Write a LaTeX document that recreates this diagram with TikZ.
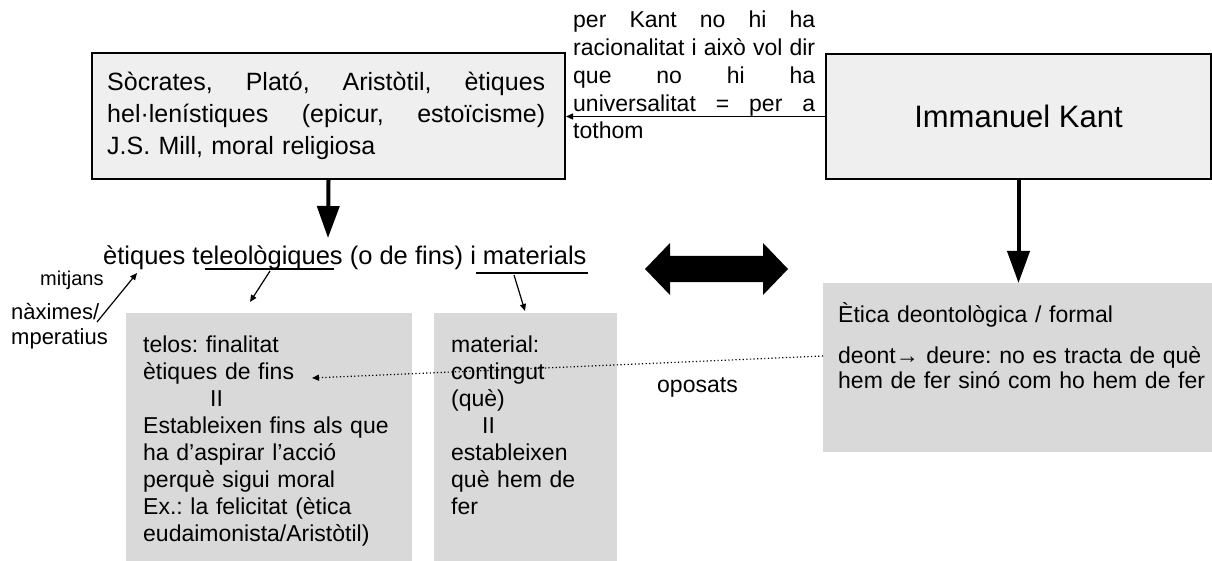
\documentclass[tikz,border=0pt]{standalone}
\usepackage{fontspec}
\setmainfont{Liberation Sans}
\usetikzlibrary{arrows.meta}
\definecolor{boxlight}{HTML}{EFEFEF}
\definecolor{boxgray}{HTML}{D9D9D9}
\setlength\parindent{0pt}
\frenchspacing
\begin{document}
\begin{tikzpicture}[x=1pt,y=-1pt,
  darkbox/.style={draw=black, line width=2pt, fill=boxlight, inner sep=0pt},
  graybox/.style={fill=boxgray, inner sep=0pt},
  txt/.style={inner sep=0pt, anchor=base west},
  thinarrow/.style={line width=1.2pt, -{Triangle[length=7pt,width=6pt]}},
  thickarrow/.style={line width=4pt, -{Triangle[length=32pt,width=22pt]}},
  dotarrow/.style={line width=1.2pt, dash pattern=on 1.2pt off 2.4pt, -{Triangle[length=7pt,width=6pt]}},
  plainline/.style={line width=1.2pt},
]
\useasboundingbox (0,0) rectangle (1212,561);

% top boxes
\node[darkbox, minimum width=473pt, minimum height=126pt, anchor=north west] (soc) at (91,52) {};
\node[txt, text width=438pt, font=\fontsize{25}{32}\selectfont\frenchspacing] (soctxt) at (107,91)
  {Sòcrates,\hfill Plató,\hfill Aristòtil,\hfill ètiques\\
   hel·lenístiques\hfill (epicur,\hfill estoïcisme)\\
   J.S. Mill, moral religiosa};

\node[darkbox, minimum width=385pt, minimum height=125pt, anchor=north west,
      font=\fontsize{31}{37}\selectfont] (kant) at (825,53) {Immanuel Kant};

\node[txt, text width=242pt, font=\fontsize{23}{27.75}\selectfont\frenchspacing] (note) at (573,28)
  {per\hfill Kant\hfill no\hfill hi\hfill ha\\
   racionalitat\hfill i\hfill això\hfill vol\hfill dir\\
   que\hfill no\hfill hi\hfill ha\\
   universalitat\hfill =\hfill per\hfill a\\
   tothom};

\draw[thinarrow] (kant.west) -- (soc.east |- kant.west);

% middle title
\node[txt, font=\fontsize{25.5}{30}\selectfont] (teleo) at (103,265)
  {ètiques teleològiques (o de fins) i materials};
\coordinate (teleotop) at (328,238);
\draw[thickarrow] (soc.south) -- (teleotop);

\coordinate (ulA1) at (205,269);
\coordinate (ulA2) at (334,269);
\coordinate (ulB1) at (476,273);
\coordinate (ulB2) at (588,273);
\draw[plainline] (ulA1) -- (ulA2);
\draw[plainline] (ulB1) -- (ulB2);

% double arrow
\fill[black] (645,269) -- (670,243) -- (670,256) -- (763,256) -- (763,243) -- (788,269)
  -- (763,295) -- (763,282) -- (670,282) -- (670,295) -- cycle;

% gray boxes
\node[graybox, minimum width=286pt, minimum height=250pt, anchor=north west] (telos) at (126,313) {};
\node[graybox, minimum width=183pt, minimum height=250pt, anchor=north west] (mat) at (434,313) {};
\node[graybox, minimum width=390pt, minimum height=169pt, anchor=north west] (deon) at (823,283) {};

\node[txt, text width=262pt, font=\fontsize{23}{27}\selectfont\frenchspacing] (telostxt) at (143,352)
  {telos: finalitat\\
   ètiques de fins\\
   \hspace*{67pt}II\\
   Estableixen fins als que\\
   ha d’aspirar l’acció\\
   perquè sigui moral\\
   Ex.: la felicitat (ètica\\
   eudaimonista/Aristòtil)};

\node[txt, text width=160pt, font=\fontsize{23}{27}\selectfont\frenchspacing] (mattxt) at (451,352)
  {material:\\
   contingut\\
   (què)\\
   \hspace*{31pt}II\\
   estableixen\\
   què hem de\\
   fer};

\node[txt, text width=372pt, font=\fontsize{23}{25}\selectfont\frenchspacing] (deontxt) at (838,322)
  {Ètica deontològica / formal\\[16pt]
   deont→ deure: no es tracta de què\\
   hem de fer sinó com ho hem de fer};

\coordinate (kantfoot) at (kant.south |- deon.north);
\draw[thickarrow] (kant.south) -- (kantfoot);

% small arrows
\coordinate (tlfrom) at (270,271);
\coordinate (tlto) at (250,302);
\draw[thinarrow] (tlfrom) -- (tlto);
\coordinate (mtfrom) at (514,275);
\coordinate (mtto) at (525,311);
\draw[thinarrow] (mtfrom) -- (mtto);

\coordinate (dotfrom) at (823,356);
\coordinate (dotto) at (312,378);
\draw[dotarrow] (dotfrom) -- (dotto);
\node[txt, font=\fontsize{23}{27}\selectfont] (opp) at (657,392) {oposats};

% left side
\node[txt, font=\fontsize{20}{24}\selectfont] (mitj) at (40,286) {mitjans};
\node[txt, font=\fontsize{22}{26}\selectfont] (maxi) at (11,319) {nàximes/};
\node[txt, font=\fontsize{22}{26}\selectfont] (imper) at (11,344) {mperatius};
\coordinate (mxfrom) at (97,322);
\coordinate (mxto) at (137,273);
\draw[thinarrow] (mxfrom) -- (mxto);
\end{tikzpicture}
\end{document}
